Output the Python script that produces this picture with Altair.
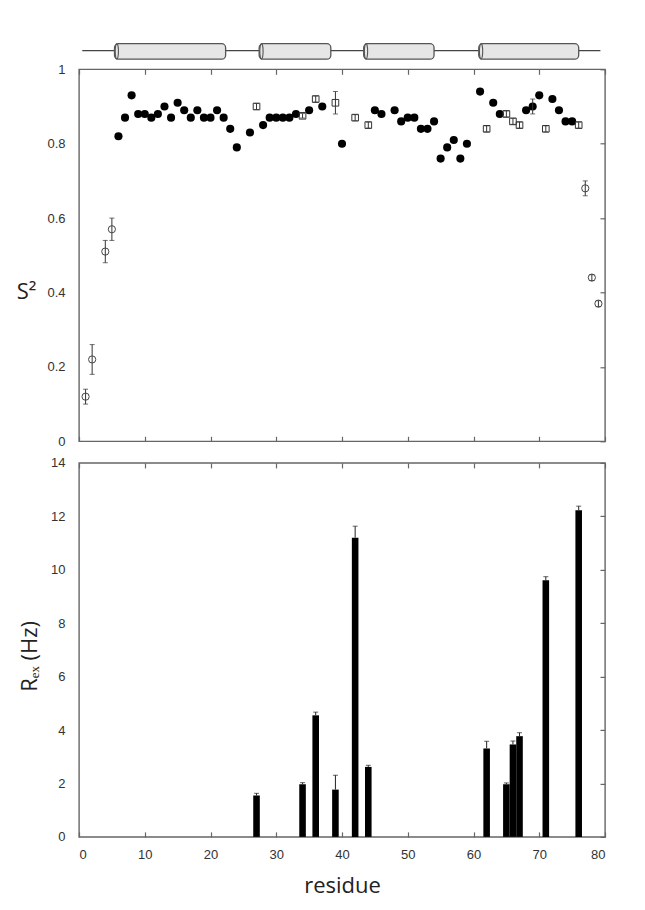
import altair as alt
import pandas as pd

# ---- S2 order parameters ----
s2_residue = [1, 2, 4, 5,
              6, 7, 8, 9, 10, 11, 12, 13, 14, 15, 16, 17, 18, 19, 20, 21, 22, 23, 24, 26,
              27, 28, 29, 30, 31, 32, 33, 34, 35, 36, 37, 39, 40, 42, 44, 45, 46, 48, 49,
              50, 51, 52, 53, 54, 55, 56, 57, 58, 59, 61, 62, 63, 64, 65, 66, 67, 68, 69,
              70, 71, 72, 73, 74, 75, 76, 77, 78, 79]
s2_value = [0.12, 0.22, 0.51, 0.57,
            0.82, 0.87, 0.93, 0.88, 0.88, 0.87, 0.88, 0.90, 0.87, 0.91, 0.89, 0.87, 0.89, 0.87, 0.87, 0.89, 0.87, 0.84, 0.79, 0.83,
            0.90, 0.85, 0.87, 0.87, 0.87, 0.87, 0.88, 0.875, 0.89, 0.92, 0.90, 0.91, 0.80, 0.87, 0.85, 0.89, 0.88, 0.89, 0.86,
            0.87, 0.87, 0.84, 0.84, 0.86, 0.76, 0.79, 0.81, 0.76, 0.80, 0.94, 0.84, 0.91, 0.88, 0.88, 0.86, 0.85, 0.89, 0.90,
            0.93, 0.84, 0.92, 0.89, 0.86, 0.86, 0.85, 0.68, 0.44, 0.37]
s2_error = [0.02, 0.04, 0.03, 0.03,
            0, 0, 0, 0, 0, 0, 0, 0, 0, 0, 0, 0, 0, 0, 0, 0, 0, 0, 0, 0,
            0.008, 0, 0, 0, 0, 0, 0, 0.006, 0, 0.008, 0, 0.03, 0, 0.008, 0.008, 0, 0, 0, 0,
            0, 0, 0, 0, 0, 0, 0, 0, 0, 0, 0, 0.008, 0, 0, 0.008, 0.008, 0.008, 0, 0.02,
            0, 0.008, 0, 0, 0, 0, 0.008, 0.02, 0.008, 0.008]
s2_kind = ["circle", "circle", "circle", "circle",
           "filled", "filled", "filled", "filled", "filled", "filled", "filled", "filled", "filled", "filled", "filled", "filled",
           "filled", "filled", "filled", "filled", "filled", "filled", "filled", "filled",
           "square", "filled", "filled", "filled", "filled", "filled", "filled", "square", "filled", "square", "filled", "square",
           "filled", "square", "square", "filled", "filled", "filled", "filled",
           "filled", "filled", "filled", "filled", "filled", "filled", "filled", "filled", "filled", "filled", "filled", "square",
           "filled", "filled", "square", "square", "square", "filled", "filled",
           "filled", "square", "filled", "filled", "filled", "filled", "square", "circle", "circle", "circle"]

# ---- Rex exchange contributions ----
rex_residue = [27, 34, 36, 39, 42, 44, 62, 65, 66, 67, 71, 76]
rex_value = [1.55, 1.97, 4.55, 1.77, 11.2, 2.62, 3.31, 1.97, 3.46, 3.77, 9.61, 12.23]
rex_error = [0.08, 0.06, 0.12, 0.54, 0.43, 0.06, 0.27, 0.05, 0.13, 0.13, 0.13, 0.15]

# ---- secondary structure (helices) ----
helix_start = [5.4, 27.4, 43.3, 60.8]
helix_end = [22.3, 38.3, 54.0, 76.0]
chain_start = [0.5]
chain_end = [79.3]

x_ticks = list(range(0, 81, 10))
s2_ticks = [0, 0.2, 0.4, 0.6, 0.8, 1]
rex_ticks = list(range(0, 15, 2))

s2_df = pd.DataFrame({"residue": s2_residue, "s2": s2_value, "err": s2_error, "kind": s2_kind})
rex_df = pd.DataFrame({"residue": rex_residue, "rex": rex_value, "err": rex_error})
helix_df = pd.DataFrame({"start": helix_start, "end": helix_end})
chain_df = pd.DataFrame({"start": chain_start, "end": chain_end})

FRAME = "#666666"
LABEL_FONT = "Liberation Sans"
TITLE_FONT = "Open Sans"
W = 526

xscale = alt.Scale(domain=[0, 80], nice=False, zero=False)
s2scale = alt.Scale(domain=[0, 1], nice=False)
rexscale = alt.Scale(domain=[0, 14], nice=False)


def x_axis(orient, labels, title=None):
    kw = dict(orient=orient, values=x_ticks, labels=labels, ticks=True, tickSize=5, offset=-5,
              domain=False, tickColor=FRAME, tickWidth=1.2, grid=False)
    if labels:
        kw.update(labelFont=LABEL_FONT, labelFontSize=13, labelColor="#333333", labelPadding=12)
    if title is not None:
        kw.update(title=title, titleFont=TITLE_FONT, titleFontSize=22, titleFontWeight="normal",
                  titleColor="#222222", titlePadding=14)
    else:
        kw.update(title=None)
    return alt.Axis(**kw)


def y_left(values, fmt, title, title_kw):
    return alt.Axis(orient="left", values=values, format=fmt, ticks=False, domain=False, grid=False,
                    labelFont=LABEL_FONT, labelFontSize=13, labelColor="#333333", labelPadding=14,
                    title=title, titleFont=TITLE_FONT, titleFontSize=22, titleFontWeight="normal",
                    titleColor="#222222", **title_kw)


def y_right(values):
    return alt.Axis(orient="right", values=values, labels=False, ticks=True, tickSize=5, offset=-5,
                    domain=False, grid=False, tickColor=FRAME, tickWidth=1.2, title=None)


# ---------------- helix track ----------------
helix_h = 24
chain = alt.Chart(chain_df).mark_rule(color="#444444", strokeWidth=1.2).encode(
    x=alt.X("start:Q", scale=xscale, axis=None),
    x2="end:Q",
    y=alt.value(27),
)
cyl = alt.Chart(helix_df).mark_bar(fill="#e6e6e6", stroke="#555555", strokeWidth=1.3, cornerRadius=4).encode(
    x=alt.X("start:Q", scale=xscale, axis=None),
    x2="end:Q",
    y=alt.value(20),
    y2=alt.value(35.5),
)
cap = alt.Chart(helix_df).transform_calculate(cx="datum.start + 0.35").mark_point(
    shape="M0,-1C0.28,-1 0.28,1 0,1C-0.28,1 -0.28,-1 0,-1Z", size=240, filled=False,
    stroke="#555555", strokeWidth=1.1, opacity=1,
).encode(
    x=alt.X("cx:Q", scale=xscale, axis=None),
    y=alt.value(27.7),
)
helix = alt.layer(chain, cyl, cap).properties(width=W, height=helix_h, view=alt.ViewBackground(stroke="transparent"))

# ---------------- S2 panel ----------------
base = alt.Chart(s2_df)
err_src = base.transform_filter("datum.err > 0").transform_calculate(
    lo="datum.s2 - datum.err", hi="datum.s2 + datum.err")
err_rule = err_src.mark_rule(color="#333333", strokeWidth=1).encode(
    x=alt.X("residue:Q", scale=xscale, axis=x_axis("top", False)),
    y=alt.Y("lo:Q", scale=s2scale, axis=y_right(s2_ticks)),
    y2="hi:Q",
)
err_lo = err_src.mark_tick(orient="horizontal", color="#333333", size=5, thickness=1).encode(
    x=alt.X("residue:Q", scale=xscale, axis=None),
    y=alt.Y("lo:Q", scale=s2scale, axis=None),
)
err_hi = err_src.mark_tick(orient="horizontal", color="#333333", size=5, thickness=1).encode(
    x=alt.X("residue:Q", scale=xscale, axis=None),
    y=alt.Y("hi:Q", scale=s2scale, axis=None),
)
pts_filled = base.transform_filter("datum.kind == 'filled'").mark_point(
    shape="circle", filled=True, color="#000000", size=66, opacity=1).encode(
    x=alt.X("residue:Q", scale=xscale, axis=x_axis("bottom", False)),
    y=alt.Y("s2:Q", scale=s2scale,
            axis=y_left(s2_ticks, "~g", "S²", dict(titleAngle=0, titleX=-53, titleY=222,
                                                   titleAlign="center", titleBaseline="middle"))),
)
pts_square = base.transform_filter("datum.kind == 'square'").mark_point(
    shape="square", filled=False, stroke="#333333", strokeWidth=1, size=44, opacity=1).encode(
    x=alt.X("residue:Q", scale=xscale, axis=None),
    y=alt.Y("s2:Q", scale=s2scale, axis=None),
)
pts_circle = base.transform_filter("datum.kind == 'circle'").mark_point(
    shape="circle", filled=False, stroke="#444444", strokeWidth=1, size=52, opacity=1).encode(
    x=alt.X("residue:Q", scale=xscale, axis=None),
    y=alt.Y("s2:Q", scale=s2scale, axis=None),
)
s2_panel = alt.layer(pts_filled, err_rule, err_lo, err_hi, pts_square, pts_circle).resolve_axis(
    x="independent", y="independent").properties(width=W, height=372)

# ---------------- Rex panel ----------------
rbase = alt.Chart(rex_df).transform_calculate(
    x0="datum.residue - 0.5", x1="datum.residue + 0.5", top="datum.rex + datum.err")
bars = rbase.mark_bar(color="#000000").encode(
    x=alt.X("x0:Q", scale=xscale, axis=x_axis("bottom", True, "residue")),
    x2="x1:Q",
    y=alt.Y("rex:Q", scale=rexscale,
            axis=y_left(rex_ticks, "d", "Rₑₓ (Hz)", dict(titleX=-50, titleY=193,
                                                         titleAlign="center", titleBaseline="middle"))),
    y2=alt.datum(0),
)
rex_rule = rbase.mark_rule(color="#222222", strokeWidth=1).encode(
    x=alt.X("residue:Q", scale=xscale, axis=x_axis("top", False)),
    y=alt.Y("rex:Q", scale=rexscale, axis=y_right(rex_ticks)),
    y2="top:Q",
)
rex_cap = rbase.mark_tick(orient="horizontal", color="#222222", size=5, thickness=1).encode(
    x=alt.X("residue:Q", scale=xscale, axis=None),
    y=alt.Y("top:Q", scale=rexscale, axis=None),
)
rex_panel = alt.layer(bars, rex_rule, rex_cap).resolve_axis(
    x="independent", y="independent").properties(width=W, height=374)

chart = alt.vconcat(helix, s2_panel, rex_panel, spacing=21.6, bounds="flush").properties(
    padding={"left": 7, "top": 14.7, "right": 5, "bottom": 5}
).configure_view(stroke=FRAME, strokeWidth=1.4).configure_axis(grid=False)

chart.save("out.html", embed_options={"renderer": "svg", "actions": False})
